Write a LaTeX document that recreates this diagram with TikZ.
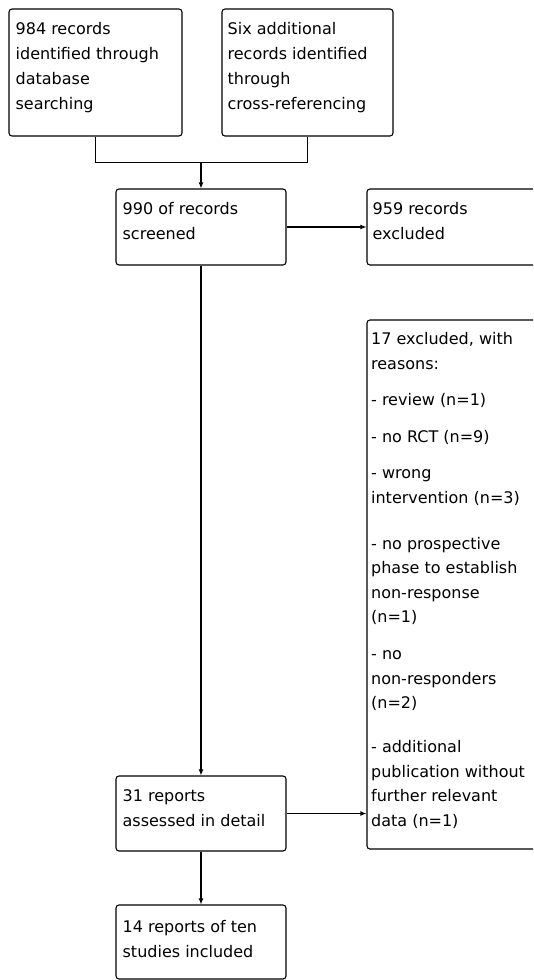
\documentclass[tikz,border=0pt]{standalone}
\usepackage{fontspec}
\setmainfont{DejaVu Sans}
\usetikzlibrary{arrows.meta}
\begin{document}
\begin{tikzpicture}[x=1pt,y=-1pt,
  box/.style={draw, line width=1.1pt, rounded corners=3pt, inner sep=0pt},
  txt/.style={anchor=north west, inner sep=0pt, align=left, font=\fontsize{16}{25}\selectfont},
  ftxt/.style={anchor=north west, inner sep=0pt, align=left, font=\fontsize{16}{24.5}\selectfont},
  link/.style={line width=1.1pt},
  arr/.style={line width=1.1pt, -{Latex[length=6pt,width=5pt]}}]
\clip (0,0) rectangle (533,980);
% boxes
\node[box, minimum width=173pt, minimum height=127pt] (A) at (95.5,72.5) {};
\node[box, minimum width=171pt, minimum height=127pt] (B) at (307.5,72.5) {};
\node[box, minimum width=170pt, minimum height=76pt] (C) at (201,227) {};
\node[box, minimum width=193pt, minimum height=76pt] (D) at (463.5,227) {};
\node[box, minimum width=193pt, minimum height=529pt] (F) at (463.5,584.5) {};
\node[box, minimum width=170pt, minimum height=75pt] (E) at (201,813.5) {};
\node[box, minimum width=170pt, minimum height=74pt] (G) at (201,942) {};
% texts
\node[txt] (At) at ([xshift=7pt,yshift=-8.5pt]A.north west) {\strut 984 records\\identified through\\database\\searching};
\node[txt] (Bt) at ([xshift=6pt,yshift=-8.5pt]B.north west) {\strut Six additional\\records identified\\through\\cross-referencing};
\node[txt] (Ct) at ([xshift=7pt,yshift=-8.5pt]C.north west) {\strut 990 of records\\screened};
\node[txt] (Dt) at ([xshift=6pt,yshift=-8.5pt]D.north west) {\strut 959 records\\excluded};
\node[ftxt] (Ft) at ([xshift=4.5pt,yshift=-7.85pt]F.north west) {\strut 17 excluded, with\\reasons:\\[12pt]- review (n=1)\\[12pt]- no RCT (n=9)\\[12pt]- wrong\\intervention (n=3)\\[21.5pt]- no prospective\\phase to establish\\non-response\\(n=1)\\[12.5pt]- no\\non-responders\\(n=2)\\[19.5pt]- additional\\publication without\\further relevant\\data (n=1)};
\node[txt] (Et) at ([xshift=7pt,yshift=-8.5pt]E.north west) {\strut 31 reports\\assessed in detail};
\node[txt] (Gt) at ([xshift=7pt,yshift=-10pt]G.north west) {\strut 14 reports of ten\\studies included};
% connectors
\path (C.north) ++(0,-26) coordinate (J);
\draw[link] (A.south) |- (J) -| (B.south);
\draw[arr] (J) -- (C.north);
\draw[arr] (C.east) -- (C.east -| D.west);
\draw[arr] (C.south) -- (E.north);
\draw[arr] (E.east) -- (E.east -| F.west);
\draw[arr] (E.south) -- (G.north);
\end{tikzpicture}
\end{document}
